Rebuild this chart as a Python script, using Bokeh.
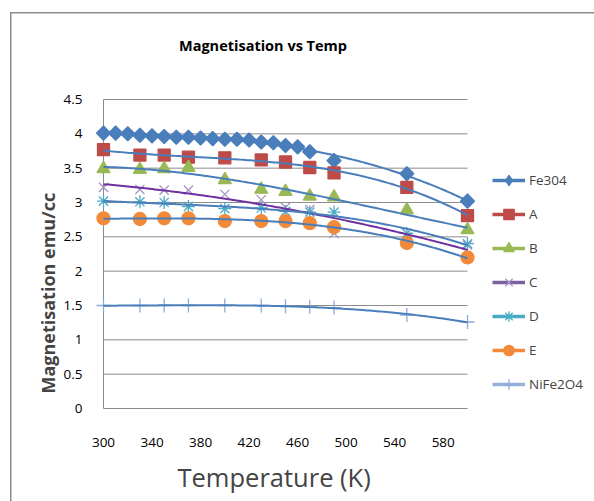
import numpy as np
from bokeh.plotting import figure
from bokeh.models import (Range1d, Legend, LegendItem, Title, FixedTicker,
                          NumeralTickFormatter, Label)
from bokeh.embed import file_html
from bokeh.resources import INLINE

# ---- data ----
temp_fe = [300, 310, 320, 330, 340, 350, 360, 370, 380, 390, 400, 410, 420,
           430, 440, 450, 460, 470, 490, 550, 600]
fe304 = [4.01, 4.01, 4.0, 3.98, 3.97, 3.96, 3.95, 3.95, 3.94, 3.93, 3.92, 3.92,
         3.91, 3.88, 3.87, 3.83, 3.81, 3.74, 3.61, 3.42, 3.02]

temp = [300, 330, 350, 370, 400, 430, 450, 470, 490, 550, 600]
s_a = [3.77, 3.69, 3.69, 3.66, 3.65, 3.62, 3.59, 3.51, 3.43, 3.22, 2.81]
s_b = [3.49, 3.48, 3.49, 3.51, 3.33, 3.19, 3.16, 3.09, 3.08, 2.89, 2.60]
s_c = [3.22, 3.19, 3.18, 3.18, 3.12, 3.04, 2.93, 2.90, 2.55, 2.50, 2.38]
s_d = [3.02, 3.01, 3.00, 2.94, 2.91, 2.92, 2.87, 2.86, 2.86, 2.55, 2.40]
s_e = [2.77, 2.76, 2.77, 2.77, 2.73, 2.73, 2.73, 2.70, 2.64, 2.41, 2.20]
nife2o4 = [1.50, 1.50, 1.50, 1.50, 1.50, 1.50, 1.49, 1.48, 1.47, 1.36, 1.26]

series_names = ["Fe304", "A", "B", "C", "D", "E", "NiFe2O4"]
trend_order = [3, 3, 3, 2, 3, 3, 3]
x_ticks = [300, 340, 380, 420, 460, 500, 540, 580]
y_ticks = [0, 0.5, 1, 1.5, 2, 2.5, 3, 3.5, 4, 4.5]
x_min, x_max = 300, 600
y_min, y_max = 0, 4.5

FONT = "Open Sans"
W, H = 594, 501
# page geometry of the axis box (pixels)
AX_L, AX_R, AX_T, AX_B = 103, 467, 99, 408
FR_L = 92                      # frame left (room for edge markers)
kx = (AX_R - AX_L) / (x_max - x_min)
ky = (AX_B - AX_T) / (y_max - y_min)
xr = Range1d(x_min - (AX_L - FR_L) / kx, x_max + (W - AX_R) / kx)
yr = Range1d(y_min, y_max + AX_T / ky)


def px_to_x(px):
    return xr.start + (px - FR_L) / kx


def py_to_y(py):
    return (AX_B - py) / ky


border_css = ("linear-gradient(#8c8c8c,#8c8c8c) 11px 12px / 100% 1.5px no-repeat, "
              "linear-gradient(#8c8c8c,#8c8c8c) 10px 12px / 1.5px 100% no-repeat, "
              "white")

p = figure(width=W, height=H, title=None, output_backend="svg",
           toolbar_location=None, x_range=xr, y_range=yr,
           min_border_left=FR_L, min_border_right=0, min_border_top=0,
           min_border_bottom=H - AX_B, styles={"background": border_css})
p.background_fill_alpha = 0
p.border_fill_alpha = 0
p.outline_line_color = None
p.xgrid.grid_line_color = None
p.ygrid.grid_line_color = None

# horizontal gridlines and the value-axis line, limited to the axis box
p.segment(x0=[x_min] * len(y_ticks), x1=[x_max] * len(y_ticks), y0=y_ticks,
          y1=y_ticks, line_color="#8c8c8c", line_width=1, level="underlay")
p.segment(x0=[x_min], x1=[x_min], y0=[y_min], y1=[y_max], line_color="#8c8c8c",
          line_width=1, level="underlay")

for ax in (p.xaxis[0], p.yaxis[0]):
    ax.axis_line_color = "#8c8c8c"
    ax.major_tick_line_color = None
    ax.minor_tick_line_color = None
    ax.major_label_text_font = FONT
    ax.major_label_text_font_size = "13.5px"
    ax.major_label_text_color = "black"
p.xaxis.ticker = FixedTicker(ticks=x_ticks)
p.xaxis.bounds = (x_min, x_max)
p.yaxis.ticker = FixedTicker(ticks=y_ticks)
p.yaxis.axis_line_color = None
p.yaxis.formatter = NumeralTickFormatter(format="0.[0]")
p.xaxis.major_label_standoff = 23
p.yaxis.major_label_standoff = 4

# series markers
specs = [
    (temp_fe, fe304, "square", 10, "#4A7EBB", "#4A7EBB", np.pi / 4, "#4A7EBB"),
    (temp, s_a, "square", 12, "#BE4B48", "#BE4B48", 0, "#BE4B48"),
    (temp, s_b, "triangle", 13, "#98B954", "#98B954", 0, "#98B954"),
    (temp, s_c, "x", 13, None, "#A493C4", 0, "#7D60A0"),
    (temp, s_d, "asterisk", 13, None, "#4BACC6", 0, "#46AAC5"),
    (temp, s_e, "circle", 13, "#F38A3A", "#F38A3A", 0, "#F38A3A"),
    (temp, nife2o4, "cross", 14, None, "#8EA9DB", 0, "#95B3D7"),
]

nan2 = [np.nan, np.nan]
legend_items = []
for (xs, ys, mk, sz, fill, line, ang, lcol), name in zip(specs, series_names):
    r = p.scatter(x=xs, y=ys, marker=mk, size=sz, angle=ang,
                  fill_color=fill, line_color=line, line_width=1.3)
    ghost = p.line(x=[x_min, x_max], y=nan2, line_color=lcol, line_width=3.5)
    if ang:
        lm = p.scatter(x=[x_min, x_max], y=nan2, marker="diamond",
                       fill_color=fill, line_color=line, line_width=1.3)
    else:
        lm = r
    legend_items.append(LegendItem(label=name, renderers=[ghost, lm]))

# polynomial trendlines
xx = np.linspace(x_min, x_max, 150)
for (xs, ys, *_), name, order in zip(specs, series_names, trend_order):
    coef = np.polyfit(xs, ys, order)
    col = "#7030A0" if name == "C" else "#4A7EBB"
    p.line(x=xx, y=np.polyval(coef, xx), line_color=col, line_width=2)

legend = Legend(items=legend_items, location=(492 - FR_L, AX_B - 397),
                padding=0, margin=0,
                border_line_color=None, background_fill_alpha=0,
                glyph_width=33, glyph_height=26, label_height=26, spacing=8,
                label_standoff=4, label_text_font=FONT,
                label_text_font_size="13.5px")
p.add_layout(legend, "center")

p.add_layout(Label(x=px_to_x(262.5), y=py_to_y(45), text="Magnetisation vs Temp",
                   text_align="center", text_baseline="middle", text_font=FONT,
                   text_font_size="14.5px", text_font_style="bold",
                   text_color="black"))
p.add_layout(Title(text="Temperature (K)", align="left", offset=177 - FR_L,
                   text_font=FONT, text_font_size="25.5px", text_font_style="normal",
                   standoff=16), "below")
p.add_layout(Title(text="Magnetisation emu/cc", align="left", offset=15,
                   text_font=FONT, text_font_size="18px", text_font_style="bold",
                   standoff=2), "left")

open("out.html", "w").write(file_html(p, INLINE))
